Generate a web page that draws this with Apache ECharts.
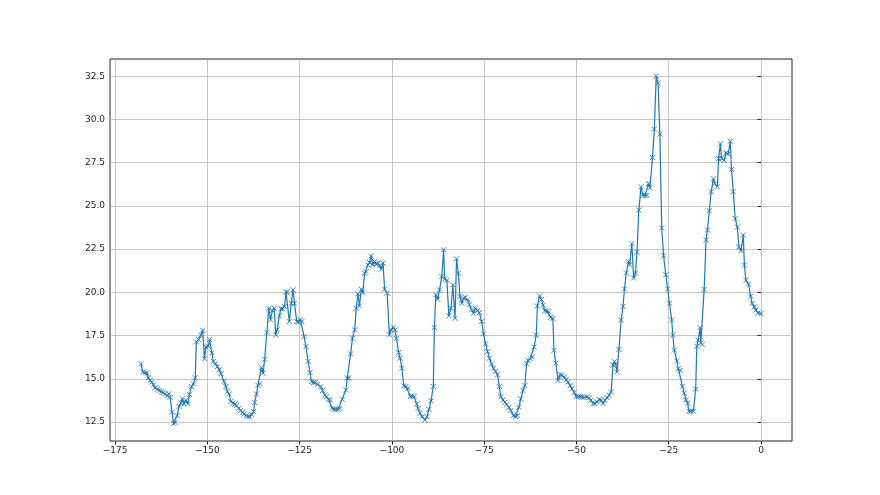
<!DOCTYPE html>
<html>
<head>
<meta charset="utf-8">
<script src="https://cdn.jsdelivr.net/npm/echarts@6/dist/echarts.min.js"></script>
<style>
html,body{margin:0;padding:0;background:#fff;}
#chart{width:880px;height:495px;}
</style>
</head>
<body>
<div id="chart"></div>
<script>
// x positions (hours relative to now)
const hours = [
  -168.0,-167.5,-167.0,-166.4,-166.0,-165.5,-165.1,-164.6,-164.2,-163.6,-163.1,-162.5,-162.0,-161.5,-160.9,-160.5,-160.1,-159.6,-159.2,-158.7,-158.2,-157.7,-157.2,-156.8,-156.3,-155.8,-155.3,-154.9,-154.3,-153.8,-153.3,-153.0,-152.4,-151.8,-151.3,-150.8,-150.4,-149.8,-149.4,-148.8,-148.4,-147.8,-147.3,-146.8,-146.3,
  -145.5,-145.0,-144.6,-144.1,-143.7,-143.1,-142.5,-142.1,-141.5,-141.0,-140.5,-140.1,-139.5,-139.0,-138.5,-138.1,-137.5,-137.2,-136.7,-136.3,-135.8,-135.4,-134.9,-134.5,-133.9,-133.4,-132.9,-132.4,-131.9,-131.5,-131.1,-130.5,-130.1,-129.6,-129.1,-128.7,-128.3,-127.8,-127.3,-126.8,-126.4,-125.8,-125.4,-124.8,-124.4,-123.8,-123.3,-122.7,-122.2,-121.8,-121.3,-120.8,-120.2,
  -119.3,-118.8,-118.2,-117.7,-117.2,-116.7,-116.2,-115.7,-115.2,-114.6,-114.1,-113.5,-112.5,-112.1,-111.7,-111.2,-110.7,-110.1,-109.7,-109.2,-108.8,-108.3,-107.9,-107.4,-107.0,-106.5,-106.1,-105.6,-105.2,-104.7,-104.3,-103.8,-103.3,-102.9,-102.4,-102.0,-101.3,-100.7,-100.2,-99.6,-99.2,-98.8,-98.2,-97.8,-97.3,-96.8,-96.2,-95.7,
  -95.0,-94.5,-94.0,-93.3,-92.9,-92.4,-91.8,-91.1,-90.5,-90.0,-89.4,-88.8,-88.5,-88.1,-87.6,-87.1,-86.5,-86.0,-85.7,-85.1,-84.6,-84.0,-83.5,-82.9,-82.5,-82.0,-81.6,-81.1,-80.6,-80.1,-79.5,-79.0,-78.4,-77.9,-77.4,-76.8,-76.3,-75.7,-75.2,-74.6,-74.1,-73.6,-73.0,-72.5,-71.9,-71.4,-70.9,
  -70.5,-69.9,-69.4,-68.9,-68.3,-67.8,-67.1,-66.5,-66.0,-65.6,-65.1,-64.5,-64.0,-63.5,-63.1,-62.5,-62.0,-61.5,-60.9,-60.6,-60.0,-59.5,-59.0,-58.6,-58.0,-57.5,-57.0,-56.4,-56.1,-55.6,-55.0,-54.4,-53.9,-53.3,-52.8,-52.3,-51.7,-51.2,-50.6,-50.1,-49.5,-49.0,-48.5,-47.9,
  -47.1,-46.6,-46.1,-45.5,-45.0,-44.4,-43.9,-43.3,-42.8,-42.3,-41.7,-41.2,-40.6,-40.1,-39.7,-39.4,-39.0,-38.5,-37.9,-37.4,-37.0,-36.5,-35.9,-35.6,-35.0,-34.5,-34.0,-33.6,-33.1,-32.5,-32.0,-31.4,-30.9,-30.5,-30.1,-29.4,-28.9,-28.4,-27.9,-27.4,-26.9,-26.4,-25.8,-25.3,-24.8,-24.2,-23.9,-23.5,
  -22.8,-22.4,-21.9,-21.3,-20.8,-20.3,-19.9,-19.5,-19.0,-18.3,-17.7,-17.4,-17.0,-16.5,-16.3,-15.9,-15.4,-14.9,-14.5,-14.0,-13.5,-12.9,-12.5,-11.8,-11.5,-11.0,-10.7,-10.0,-9.5,-8.9,-8.3,-8.0,-7.5,-7.0,-6.4,-6.0,-5.4,-4.8,-4.5,-4.1,-3.4,-2.8,-2.4,-1.8,-1.4,-0.8,0.0
];
// measured values at those positions
const values = [
  15.87,15.4,15.35,15.35,15.06,14.9,14.8,14.65,14.47,14.4,14.32,14.26,14.2,14.13,14.03,14.13,13.93,13.06,12.42,12.46,12.87,13.4,13.6,13.84,13.55,13.75,13.55,14.1,14.55,14.7,15.06,17.13,17.27,17.52,17.81,16.16,16.84,16.88,17.27,16.5,16.0,15.87,15.7,15.52,15.3,
  14.84,14.55,14.26,14.12,13.68,13.58,13.54,13.45,13.29,13.16,13.06,12.96,12.87,12.81,12.81,12.94,13.1,13.62,14.12,14.62,14.7,15.65,15.32,16.13,17.69,19.08,18.41,18.95,19.08,17.54,17.83,18.64,19.05,19.03,19.18,20.01,20.01,18.31,19.37,20.14,19.37,18.31,18.27,18.41,18.31,17.44,16.86,16.0,15.36,14.84,14.78,14.78,14.68,
  14.55,14.32,14.06,13.97,13.81,13.77,13.29,13.23,13.23,13.23,13.29,13.81,14.35,15.04,15.04,16.44,17.35,17.83,19.08,19.91,19.21,20.18,19.98,21.1,21.2,21.59,21.73,22.11,21.59,21.78,21.65,21.69,21.54,21.34,21.69,20.18,19.95,17.54,17.83,17.98,17.83,17.33,16.52,16.19,15.61,14.59,14.55,14.45,
  13.97,14.0,13.97,13.54,13.29,13.0,12.81,12.62,12.81,13.23,13.72,14.55,17.96,19.86,19.6,20.14,20.92,22.46,20.76,20.69,18.64,19.08,20.43,18.5,21.94,21.11,19.76,19.37,19.66,19.72,19.57,19.28,18.99,18.79,19.08,18.95,18.83,18.31,17.6,17.02,16.57,16.19,15.86,15.61,15.42,15.23,14.55,
  13.97,13.78,13.64,13.5,13.35,13.16,12.87,12.81,12.87,13.35,13.84,14.32,14.61,15.87,16.07,16.16,16.26,16.84,17.52,19.21,19.79,19.59,19.26,18.93,18.93,18.88,18.55,18.49,16.65,15.91,14.9,15.25,15.19,15.1,14.94,14.81,14.61,14.42,14.22,13.97,13.97,13.97,13.93,13.93,
  13.95,13.91,13.76,13.57,13.57,13.66,13.8,13.76,13.57,13.76,13.91,14.05,14.24,15.79,15.99,15.85,15.4,16.7,18.4,19.18,20.19,21.12,21.79,21.6,22.82,20.83,21.12,22.32,24.76,26.11,25.61,25.61,25.61,26.3,26.05,27.8,29.44,32.5,32.11,29.15,23.73,22.12,21.02,20.19,19.37,18.4,17.53,16.66,
  16.03,15.58,15.48,14.57,14.17,13.78,13.59,13.12,13.12,13.12,14.4,16.88,17.23,17.96,17.07,16.99,20.17,23.03,23.61,24.72,25.82,26.57,26.28,26.11,27.74,28.59,27.74,27.64,28.06,28.0,28.74,27.1,25.82,24.27,23.77,22.63,22.41,23.32,21.58,20.71,20.48,19.78,19.36,19.16,18.97,18.81,18.77
];
const xTicks = [-175, -150, -125, -100, -75, -50, -25, 0];
const yTicks = [12.5, 15.0, 17.5, 20.0, 22.5, 25.0, 27.5, 30.0, 32.5];

const n = Math.min(hours.length, values.length);
const points = [];
for (let i = 0; i < n; i++) points.push([hours[i], values[i]]);
if (hours.length !== values.length) console.error('length mismatch', hours.length, values.length);

const chart = echarts.init(document.getElementById('chart'), null, {renderer: 'canvas'});
const textStyle = {color: '#222', fontFamily: 'DejaVu Sans', fontSize: 9};
chart.setOption({
  animation: false,
  backgroundColor: '#fff',
  grid: {left: 110, right: 88, top: 59, bottom: 54, show: true, borderColor: '#222', borderWidth: 1, backgroundColor: 'transparent'},
  xAxis: {
    type: 'value', min: -176.4, max: 8.4,
    axisLine: {show: false},
    axisTick: {show: true, length: 3.5, lineStyle: {color: '#222', width: 1}, customValues: xTicks},
    axisLabel: Object.assign({margin: 5, customValues: xTicks,
      formatter: v => (v < 0 ? '\u2212' + Math.abs(v) : String(v))}, textStyle),
    splitLine: {show: true, lineStyle: {color: '#b8b8b8', width: 0.8}}
  },
  yAxis: {
    type: 'value', min: 11.4, max: 33.5,
    axisLine: {show: false},
    axisTick: {show: true, length: 3.5, lineStyle: {color: '#222', width: 1}, customValues: yTicks},
    axisLabel: Object.assign({margin: 5, customValues: yTicks,
      formatter: v => Number(v).toFixed(1)}, textStyle),
    splitLine: {show: true, lineStyle: {color: '#b8b8b8', width: 0.8}}
  },
  series: [{
    type: 'line',
    data: points,
    showSymbol: true,
    showAllSymbol: true,
    symbol: 'path://M0,0L10,10M10,0L0,10',
    symbolSize: 5,
    lineStyle: {color: '#1f77b4', width: 1.2},
    itemStyle: {color: '#1f77b4', borderColor: '#1f77b4', borderWidth: 0.9},
    z: 3
  }]
});
</script>
</body>
</html>
